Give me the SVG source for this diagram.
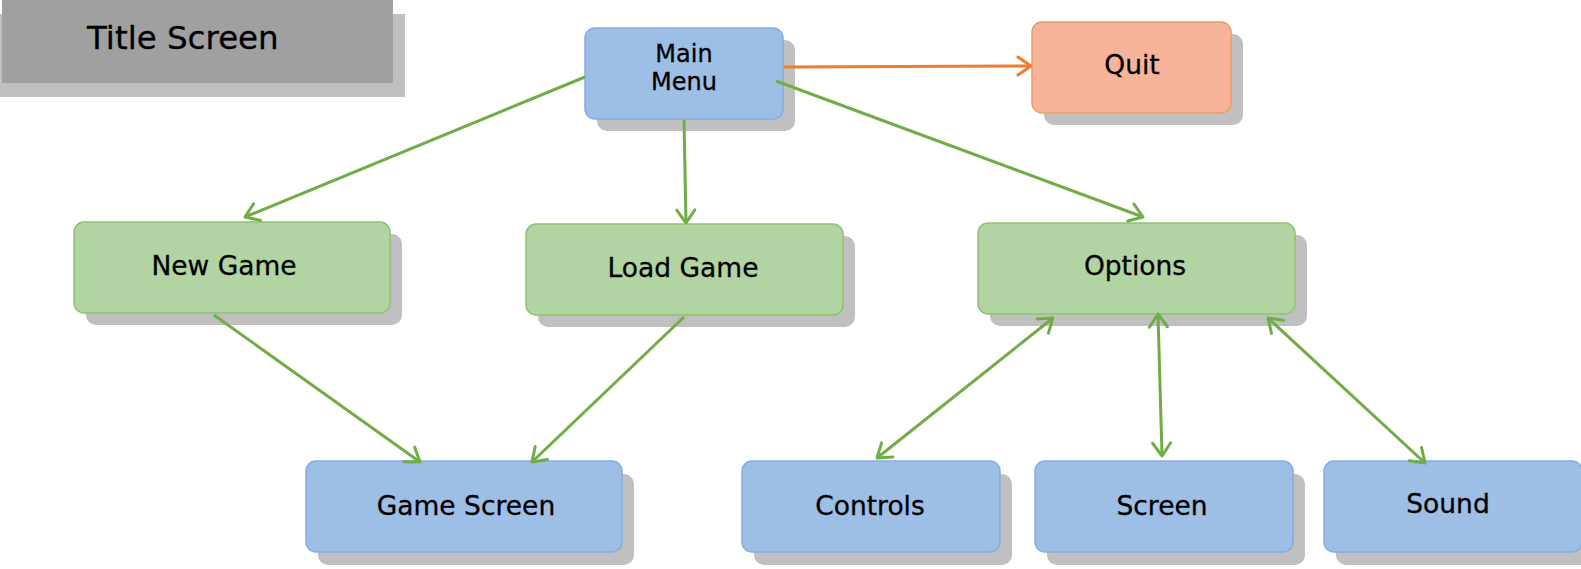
<svg xmlns="http://www.w3.org/2000/svg" width="1581" height="569" viewBox="0 0 1581 569">
<style>
.shadow{fill:#c0c0c0}
.blue{fill:#9dbee5;stroke:#86ace0;stroke-width:1.5}
.green{fill:#b1d4a2;stroke:#8cc277;stroke-width:1.5}
.orange{fill:#f6b59a;stroke:#ef9a66;stroke-width:1.5}
.lbl{font-family:"DejaVu Sans",Verdana,sans-serif;font-size:26.5px;fill:#000;text-anchor:middle;stroke:#000;stroke-width:0.3}
.con{fill:none;stroke:#70ad47;stroke-width:3}
.conO{fill:none;stroke:#ed7d31;stroke-width:3}
</style>
<defs>
<marker id="ag" markerUnits="userSpaceOnUse" viewBox="-16 -10 20 20" markerWidth="20" markerHeight="20" refX="0" refY="0" orient="auto-start-reverse" overflow="visible">
<path d="M-13,-9 L0,0 L-13,9" fill="none" stroke="#70ad47" stroke-width="3" stroke-linejoin="round" stroke-linecap="round"/>
</marker>
<marker id="ao" markerUnits="userSpaceOnUse" viewBox="-16 -10 20 20" markerWidth="20" markerHeight="20" refX="0" refY="0" orient="auto" overflow="visible">
<path d="M-13,-9 L0,0 L-13,9" fill="none" stroke="#ed7d31" stroke-width="3" stroke-linejoin="round" stroke-linecap="round"/>
</marker>
</defs>
<rect width="1581" height="569" fill="#fff"/>

<g id="title">
<rect class="shadow" x="0" y="14" width="405" height="83"/>
<rect x="2" y="0" width="391" height="83" fill="#a0a0a0"/>
<text x="87" y="49" font-family="DejaVu Sans, Verdana, sans-serif" font-size="32.5" fill="#000" stroke="#000" stroke-width="0.3">Title Screen</text>
</g>

<g id="main-menu">
<rect class="shadow" x="597" y="40" width="198" height="91" rx="10"/>
<rect class="blue" x="585" y="28" width="198" height="91" rx="10"/>
<text class="lbl" x="684" y="62" style="font-size:24px">Main</text>
<text class="lbl" x="684" y="90" style="font-size:24px">Menu</text>
</g>

<g id="quit">
<rect class="shadow" x="1044" y="34" width="199" height="91" rx="10"/>
<rect class="orange" x="1032" y="22" width="199" height="91" rx="10"/>
<text class="lbl" x="1132" y="74">Quit</text>
</g>

<g id="new-game">
<rect class="shadow" x="86" y="234" width="316" height="91" rx="10"/>
<rect class="green" x="74" y="222" width="316" height="91" rx="10"/>
<text class="lbl" x="224" y="275">New Game</text>
</g>

<g id="load-game">
<rect class="shadow" x="538" y="236" width="317" height="91" rx="10"/>
<rect class="green" x="526" y="224" width="317" height="91" rx="10"/>
<text class="lbl" x="683" y="277">Load Game</text>
</g>

<g id="options">
<rect class="shadow" x="990" y="235" width="317" height="91" rx="10"/>
<rect class="green" x="978" y="223" width="317" height="91" rx="10"/>
<text class="lbl" x="1135" y="275">Options</text>
</g>

<g id="game-screen">
<rect class="shadow" x="318" y="474" width="316" height="91" rx="10"/>
<rect class="blue" x="306" y="461" width="316" height="91" rx="10"/>
<text class="lbl" x="466" y="515">Game Screen</text>
</g>

<g id="controls">
<rect class="shadow" x="754" y="474" width="258" height="91" rx="10"/>
<rect class="blue" x="742" y="461" width="258" height="91" rx="10"/>
<text class="lbl" x="870" y="515">Controls</text>
</g>

<g id="screen">
<rect class="shadow" x="1047" y="474" width="258" height="91" rx="10"/>
<rect class="blue" x="1035" y="461" width="258" height="91" rx="10"/>
<text class="lbl" x="1162" y="515">Screen</text>
</g>

<g id="sound">
<rect class="shadow" x="1336" y="474" width="258" height="91" rx="10"/>
<rect class="blue" x="1324" y="461" width="258" height="91" rx="10"/>
<text class="lbl" x="1448" y="513">Sound</text>
</g>

<g id="connectors">
<line class="con" x1="585" y1="77" x2="245" y2="217" marker-end="url(#ag)"/>
<line class="con" x1="684" y1="120" x2="686" y2="223" marker-end="url(#ag)"/>
<line class="con" x1="776" y1="81" x2="1143" y2="217" marker-end="url(#ag)"/>
<line class="conO" x1="784" y1="67" x2="1031" y2="66" marker-end="url(#ao)"/>
<line class="con" x1="214" y1="315" x2="420" y2="462" marker-end="url(#ag)"/>
<line class="con" x1="684" y1="317" x2="532" y2="462" marker-end="url(#ag)"/>
<line class="con" x1="1053" y1="318" x2="877" y2="458" marker-start="url(#ag)" marker-end="url(#ag)"/>
<line class="con" x1="1158" y1="314" x2="1162" y2="456" marker-start="url(#ag)" marker-end="url(#ag)"/>
<line class="con" x1="1268" y1="318" x2="1425" y2="463" marker-start="url(#ag)" marker-end="url(#ag)"/>
</g>
</svg>
